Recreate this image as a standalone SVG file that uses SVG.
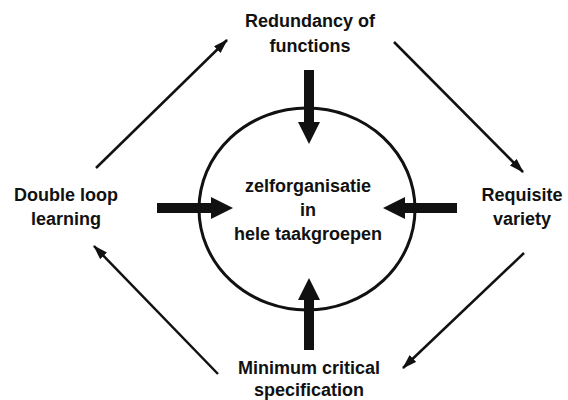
<svg xmlns="http://www.w3.org/2000/svg" width="568" height="400" viewBox="0 0 568 400">
<defs>
<style>
text{font-family:"Liberation Sans",Arial,sans-serif;font-size:18px;font-weight:bold;fill:#111;text-anchor:middle}
.thin{stroke:#111;stroke-width:2.5;fill:none}
.thick{stroke:#111;stroke-width:10;fill:none}
</style>
<marker id="ah" viewBox="0 0 14 9" refX="13" refY="4.5" markerWidth="15" markerHeight="9.5" markerUnits="userSpaceOnUse" orient="auto">
<path d="M0,0 L14,4.5 L0,9 z" fill="#111"/>
</marker>
<marker id="sh" viewBox="0 0 10 10" refX="0" refY="5" markerWidth="22" markerHeight="23" markerUnits="userSpaceOnUse" orient="auto">
<path d="M0,0 L10,5 L0,10 z" fill="#111"/>
</marker>
</defs>
<rect width="568" height="400" fill="#fff"/>
<g id="center">
<ellipse cx="307" cy="209" rx="108" ry="101" fill="none" stroke="#111" stroke-width="3"/>
<text x="308" y="192">zelforganisatie</text>
<text x="308" y="216">in</text>
<text x="308" y="240">hele taakgroepen</text>
</g>
<g id="top"><text x="310" y="27">Redundancy of</text><text x="310" y="52">functions</text></g>
<g id="left"><text x="66" y="201">Double loop</text><text x="66" y="225">learning</text></g>
<g id="right"><text x="522" y="201">Requisite</text><text x="522" y="225">variety</text></g>
<g id="bottom"><text x="309" y="374">Minimum critical</text><text x="309" y="396">specification</text></g>
<g id="connectors">
<path class="thin" d="M96,168 L227,40" marker-end="url(#ah)"/>
<path class="thin" d="M394,42 L523,172" marker-end="url(#ah)"/>
<path class="thin" d="M524,253 L403,368" marker-end="url(#ah)"/>
<path class="thin" d="M218,374 L94,246" marker-end="url(#ah)"/>
<path class="thick" d="M309,70 L309,122" marker-end="url(#sh)"/>
<path class="thick" d="M309,350 L309,300" marker-end="url(#sh)"/>
<path class="thick" d="M157,208 L211,208" marker-end="url(#sh)"/>
<path class="thick" d="M457,208 L405,208" marker-end="url(#sh)"/>
</g>
</svg>
